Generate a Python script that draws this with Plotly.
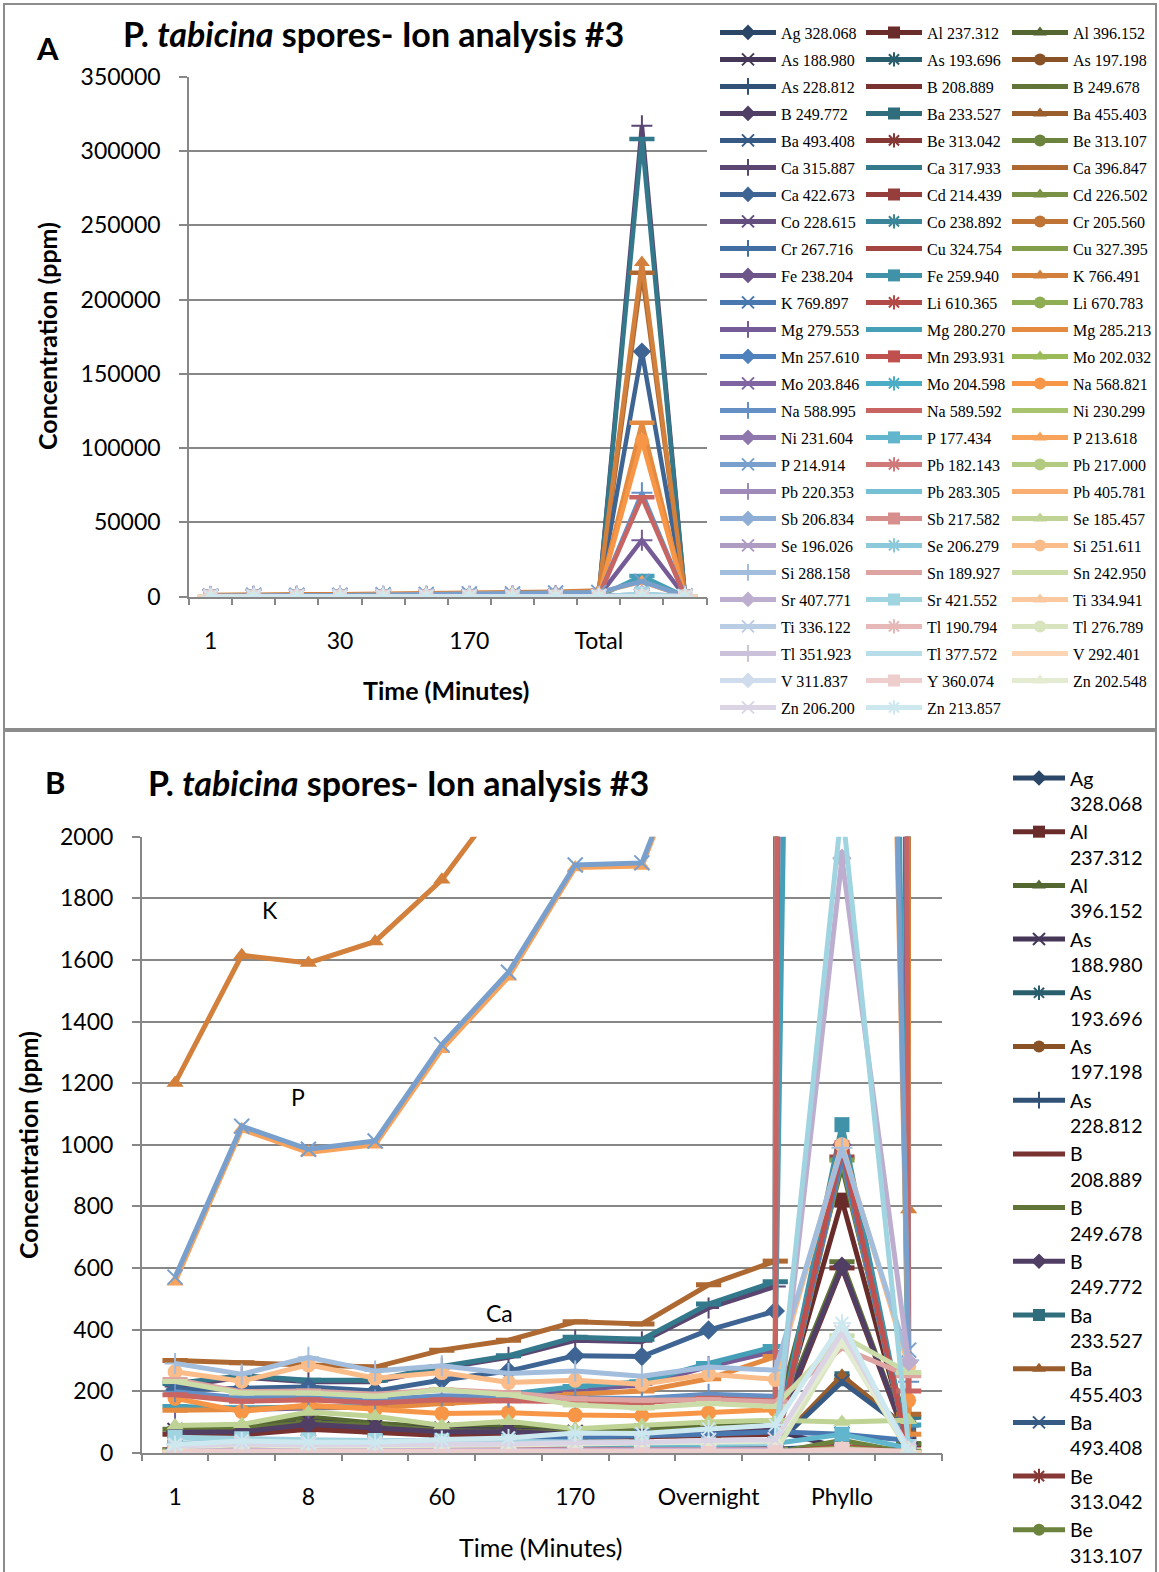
import plotly.graph_objects as go

# ---------------- data ----------------
categories = ["1", "4", "8", "30", "60", "120", "170", "240", "Overnight", "Total", "Phyllo", "Blank"]
ticks_a = ["1", "30", "170", "Total"]
ticks_b = ["1", "8", "60", "170", "Overnight", "Phyllo"]

Ag_328_068 = [3, 3, 3, 3, 3, 3, 3, 3, 4, 4, 6, 2]
Al_237_312 = [62, 64, 82, 72, 60, 62, 56, 58, 62, 66, 820, 30]
Al_396_152 = [86, 90, 116, 96, 82, 84, 76, 80, 94, 100, 930, 40]
As_188_980 = [72, 74, 102, 86, 76, 74, 66, 70, 74, 72, 15, 10]
As_193_696 = [5, 5, 6, 5, 5, 5, 5, 5, 6, 6, 8, 3]
As_197_198 = [8, 8, 9, 8, 8, 8, 8, 8, 9, 10, 15, 5]
As_228_812 = [10, 10, 12, 10, 10, 10, 10, 10, 12, 12, 20, 5]
B_208_889 = [60, 58, 76, 68, 56, 56, 50, 52, 56, 60, 600, 25]
B_249_678 = [76, 78, 98, 88, 72, 70, 66, 70, 80, 86, 620, 30]
B_249_772 = [66, 68, 92, 80, 68, 68, 60, 62, 70, 74, 605, 30]
Ba_233_527 = [20, 20, 22, 20, 20, 20, 22, 22, 25, 28, 240, 80]
Ba_455_403 = [18, 18, 20, 18, 18, 18, 20, 20, 22, 25, 250, 75]
Ba_493_408 = [17, 17, 19, 17, 17, 17, 19, 19, 21, 24, 230, 70]
Be_313_042 = [0, 0, 0, 0, 0, 0, 0, 0, 0, 0, 1, 0]
Be_313_107 = [0, 0, 0, 0, 0, 0, 0, 0, 0, 0, 40, 0]
Ca_315_887 = [215, 245, 230, 230, 275, 310, 365, 360, 470, 540, 317000, 110]
Ca_317_933 = [225, 250, 235, 235, 280, 315, 375, 368, 483, 555, 308000, 115]
Ca_396_847 = [299, 292, 282, 278, 333, 365, 425, 418, 545, 622, 218000, 125]
Ca_422_673 = [205, 210, 213, 200, 236, 265, 315, 312, 398, 460, 165000, 90]
Cd_214_439 = [2, 2, 2, 2, 2, 2, 2, 2, 2, 3, 5, 1]
Cd_226_502 = [2, 2, 2, 2, 2, 2, 2, 2, 2, 3, 5, 1]
Co_228_615 = [3, 3, 3, 3, 3, 3, 3, 3, 3, 3, 6, 1]
Co_238_892 = [3, 3, 3, 3, 3, 3, 3, 3, 3, 3, 6, 1]
Cr_205_560 = [4, 4, 4, 4, 4, 4, 4, 4, 5, 5, 12, 2]
Cr_267_716 = [4, 4, 4, 4, 4, 4, 4, 4, 5, 5, 14, 2]
Cu_324_754 = [10, 10, 11, 10, 10, 10, 10, 10, 11, 12, 960, 5]
Cu_327_395 = [9, 9, 10, 9, 9, 9, 9, 9, 10, 11, 950, 5]
Fe_238_204 = [14, 11, 10, 10, 11, 11, 14, 13, 17, 19, 1000, 5]
Fe_259_940 = [15, 12, 10, 10, 12, 12, 15, 14, 18, 20, 1065, 5]
K_766_491 = [1200, 1615, 1590, 1660, 1860, 2150, 2500, 2700, 3300, 4200, 225000, 790]
K_769_897 = [30, 34, 35, 36, 40, 44, 50, 54, 60, 68, 60, 40]
Li_610_365 = [1, 1, 1, 1, 1, 1, 1, 1, 1, 1, 20, 1]
Li_670_783 = [1, 1, 1, 1, 1, 1, 1, 1, 1, 1, 15, 1]
Mg_279_553 = [140, 140, 145, 148, 170, 185, 205, 220, 280, 330, 38000, 85]
Mg_280_270 = [150, 145, 148, 150, 175, 190, 215, 230, 290, 345, 14000, 90]
Mg_285_213 = [138, 140, 150, 145, 160, 170, 190, 200, 240, 312, 117000, 60]
Mn_257_610 = [10, 10, 11, 10, 10, 10, 10, 11, 12, 13, 960, 4]
Mn_293_931 = [9, 9, 10, 9, 9, 9, 9, 10, 11, 12, 990, 4]
Mo_202_032 = [1, 1, 1, 1, 1, 1, 1, 1, 1, 1, 3, 0]
Mo_203_846 = [1, 1, 1, 1, 1, 1, 1, 1, 1, 1, 3, 0]
Mo_204_598 = [1, 1, 1, 1, 1, 1, 1, 1, 1, 1, 3, 0]
Na_568_821 = [177, 134, 155, 140, 127, 130, 122, 120, 130, 140, 105000, 170]
Na_588_995 = [198, 178, 185, 172, 185, 180, 178, 176, 190, 183, 70000, 230]
Na_589_592 = [188, 167, 172, 161, 172, 169, 163, 162, 177, 168, 67000, 200]
Ni_230_299 = [2, 2, 2, 2, 2, 2, 2, 2, 2, 2, 5, 1]
Ni_231_604 = [2, 2, 2, 2, 2, 2, 2, 2, 2, 2, 5, 1]
P_177_434 = [30, 35, 32, 33, 30, 30, 28, 27, 26, 30, 60, 15]
P_213_618 = [555, 1050, 975, 1000, 1310, 1545, 1900, 1905, 2460, 2900, 10000, 300]
P_214_914 = [570, 1060, 985, 1012, 1325, 1560, 1908, 1915, 2470, 2920, 10300, 333]
Pb_182_143 = [0, 0, 0, 0, 0, 0, 0, 0, 0, 0, 2, 0]
Pb_217_000 = [0, 0, 0, 0, 0, 0, 0, 0, 0, 0, 2, 0]
Pb_220_353 = [1, 1, 1, 1, 1, 1, 1, 1, 1, 1, 3, 0]
Pb_283_305 = [1, 1, 1, 1, 1, 1, 1, 1, 1, 1, 3, 0]
Pb_405_781 = [1, 1, 1, 1, 1, 1, 1, 1, 1, 1, 3, 0]
Sb_206_834 = [1, 1, 1, 1, 1, 1, 1, 1, 1, 1, 2, 0]
Sb_217_582 = [2, 2, 2, 2, 2, 2, 2, 2, 2, 2, 3, 1]
Se_185_457 = [88, 92, 132, 118, 88, 102, 78, 90, 100, 105, 100, 105]
Se_196_026 = [1, 1, 1, 1, 1, 1, 1, 1, 1, 1, 2, 0]
Se_206_279 = [2, 2, 2, 2, 2, 2, 2, 2, 2, 2, 3, 1]
Si_251_611 = [263, 232, 285, 242, 260, 228, 235, 222, 255, 238, 1000, 280]
Si_288_158 = [290, 255, 310, 265, 282, 257, 265, 248, 278, 268, 990, 300]
Sn_189_927 = [238, 198, 200, 190, 205, 195, 175, 170, 172, 165, 340, 250]
Sn_242_950 = [231, 194, 194, 183, 204, 188, 155, 145, 160, 150, 380, 260]
Sr_407_771 = [8, 8, 8, 8, 8, 8, 8, 8, 9, 10, 1930, 295]
Sr_421_552 = [50, 45, 42, 40, 38, 36, 32, 30, 28, 30, 2100, 20]
Ti_334_941 = [2, 2, 2, 2, 2, 2, 2, 2, 2, 2, 4, 1]
Ti_336_122 = [2, 2, 2, 2, 2, 2, 2, 2, 2, 2, 4, 1]
Tl_190_794 = [3, 3, 3, 3, 3, 3, 3, 3, 3, 3, 5, 2]
Tl_276_789 = [3, 3, 3, 3, 3, 3, 3, 3, 3, 3, 360, 3]
Tl_351_923 = [2, 2, 2, 2, 2, 2, 2, 2, 2, 2, 4, 1]
Tl_377_572 = [2, 2, 2, 2, 2, 2, 2, 2, 2, 2, 4, 1]
V_292_401 = [1, 1, 1, 1, 1, 1, 1, 1, 1, 1, 3, 0]
V_311_837 = [1, 1, 1, 1, 1, 1, 1, 1, 1, 1, 3, 0]
Y_360_074 = [5, 5, 5, 5, 5, 5, 5, 5, 5, 5, 10, 5]
Zn_202_548 = [20, 25, 22, 22, 25, 25, 28, 30, 35, 38, 360, 15]
Zn_206_200 = [22, 28, 25, 25, 28, 28, 32, 33, 40, 42, 390, 15]
Zn_213_857 = [27, 38, 34, 34, 43, 48, 64, 62, 77, 90, 420, 0]

series = [
    ("Ag 328.068", Ag_328_068), ("Al 237.312", Al_237_312), ("Al 396.152", Al_396_152),
    ("As 188.980", As_188_980), ("As 193.696", As_193_696), ("As 197.198", As_197_198),
    ("As 228.812", As_228_812), ("B 208.889", B_208_889), ("B 249.678", B_249_678),
    ("B 249.772", B_249_772), ("Ba 233.527", Ba_233_527), ("Ba 455.403", Ba_455_403),
    ("Ba 493.408", Ba_493_408), ("Be 313.042", Be_313_042), ("Be 313.107", Be_313_107),
    ("Ca 315.887", Ca_315_887), ("Ca 317.933", Ca_317_933), ("Ca 396.847", Ca_396_847),
    ("Ca 422.673", Ca_422_673), ("Cd 214.439", Cd_214_439), ("Cd 226.502", Cd_226_502),
    ("Co 228.615", Co_228_615), ("Co 238.892", Co_238_892), ("Cr 205.560", Cr_205_560),
    ("Cr 267.716", Cr_267_716), ("Cu 324.754", Cu_324_754), ("Cu 327.395", Cu_327_395),
    ("Fe 238.204", Fe_238_204), ("Fe 259.940", Fe_259_940), ("K 766.491", K_766_491),
    ("K 769.897", K_769_897), ("Li 610.365", Li_610_365), ("Li 670.783", Li_670_783),
    ("Mg 279.553", Mg_279_553), ("Mg 280.270", Mg_280_270), ("Mg 285.213", Mg_285_213),
    ("Mn 257.610", Mn_257_610), ("Mn 293.931", Mn_293_931), ("Mo 202.032", Mo_202_032),
    ("Mo 203.846", Mo_203_846), ("Mo 204.598", Mo_204_598), ("Na 568.821", Na_568_821),
    ("Na 588.995", Na_588_995), ("Na 589.592", Na_589_592), ("Ni 230.299", Ni_230_299),
    ("Ni 231.604", Ni_231_604), ("P 177.434", P_177_434), ("P 213.618", P_213_618),
    ("P 214.914", P_214_914), ("Pb 182.143", Pb_182_143), ("Pb 217.000", Pb_217_000),
    ("Pb 220.353", Pb_220_353), ("Pb 283.305", Pb_283_305), ("Pb 405.781", Pb_405_781),
    ("Sb 206.834", Sb_206_834), ("Sb 217.582", Sb_217_582), ("Se 185.457", Se_185_457),
    ("Se 196.026", Se_196_026), ("Se 206.279", Se_206_279), ("Si 251.611", Si_251_611),
    ("Si 288.158", Si_288_158), ("Sn 189.927", Sn_189_927), ("Sn 242.950", Sn_242_950),
    ("Sr 407.771", Sr_407_771), ("Sr 421.552", Sr_421_552), ("Ti 334.941", Ti_334_941),
    ("Ti 336.122", Ti_336_122), ("Tl 190.794", Tl_190_794), ("Tl 276.789", Tl_276_789),
    ("Tl 351.923", Tl_351_923), ("Tl 377.572", Tl_377_572), ("V 292.401", V_292_401),
    ("V 311.837", V_311_837), ("Y 360.074", Y_360_074), ("Zn 202.548", Zn_202_548),
    ("Zn 206.200", Zn_206_200), ("Zn 213.857", Zn_213_857),
]

# ---------------- styling ----------------
W, H = 1159, 1572
GRID = "#878787"
FONT = "Lato, 'Open Sans', sans-serif"
LEG_FONT = "'Liberation Serif', serif"


def fx(p):
    return p / W


def fy(p):
    return 1 - p / H


accents = ["#4F81BD", "#C0504D", "#9BBB59", "#8064A2", "#4BACC6", "#F79646"]
n_levels = (len(series) + 5) // 6
half = (n_levels - 1) / 2


def shade(hexc, level):
    r, g, b = (int(hexc[i:i + 2], 16) for i in (1, 3, 5))
    t = (level - half) / half
    if t < 0:
        f = 1 + 0.45 * t
        r, g, b = r * f, g * f, b * f
    else:
        m = 0.72 * t
        r, g, b = r + (255 - r) * m, g + (255 - g) * m, b + (255 - b) * m
    return f"rgb({round(r)},{round(g)},{round(b)})"


symbols = ["diamond", "square", "triangle-up", "x-thin", "asterisk", "circle",
           "cross-thin", "line-ew", "line-ew"]
thin = {"x-thin", "asterisk", "cross-thin"}

xpos = list(range(1, len(categories) + 1))
bounds = [i + 0.5 for i in range(len(categories) + 1)]

fig = go.Figure()

# panel A traces
for i, (name, vals) in enumerate(series):
    col = shade(accents[i % 6], i // 6)
    sym = symbols[i % 9]
    if sym == "line-ew":
        size, lw = 18, 4.5
    elif sym in thin:
        size, lw = 15, 2
    else:
        size, lw = 14, 0
    fig.add_trace(go.Scatter(
        x=xpos, y=vals, name=name, mode="lines+markers",
        xaxis="x", yaxis="y",
        line=dict(color=col, width=4.5),
        marker=dict(symbol=sym, size=size, color=col, line=dict(color=col, width=lw)),
        legend=["legend", "legend2", "legend3"][i % 3],
        legendgroup=f"a{i}",
        customdata=[categories[k] for k in range(len(categories))],
        hovertemplate="%{customdata}: %{y}<extra>" + name + "</extra>",
    ))

# panel B traces
for i, (name, vals) in enumerate(series):
    col = shade(accents[i % 6], i // 6)
    sym = symbols[i % 9]
    if sym == "line-ew":
        size, lw = 18, 5
    elif sym in thin:
        size, lw = 15, 2
    else:
        size, lw = 15, 0
    fig.add_trace(go.Scatter(
        x=xpos, y=vals, name=name.replace(" ", "<br>"), mode="lines+markers",
        xaxis="x2", yaxis="y2",
        line=dict(color=col, width=5),
        marker=dict(symbol=sym, size=size, color=col, line=dict(color=col, width=lw)),
        legend="legend4",
        legendgroup=f"b{i}",
        showlegend=i < 15,
        customdata=[categories[k] for k in range(len(categories))],
        hovertemplate="%{customdata}: %{y}<extra>" + name + "</extra>",
    ))

tickfont = dict(family=FONT, size=23, color="black")

common_x = dict(
    range=[0.5, len(categories) + 0.5], tickmode="array", ticks="",
    showgrid=False, zeroline=False, showline=True, linecolor=GRID, linewidth=1.5,
    tickfont=tickfont, ticklabelstandoff=23,
    minor=dict(tickmode="array", tickvals=bounds, ticks="outside", ticklen=7,
               tickcolor=GRID, tickwidth=1.5, showgrid=False),
)
common_y = dict(
    tick0=0, ticks="outside", ticklen=8, tickcolor=GRID, tickwidth=1.5,
    showgrid=True, gridcolor=GRID, gridwidth=1.5, zeroline=False,
    showline=True, linecolor=GRID, linewidth=1.5, tickfont=tickfont,
    tickformat="d", ticklabelstandoff=14,
)

fig.update_layout(
    width=W, height=H,
    margin=dict(l=0, r=0, t=0, b=0, autoexpand=False),
    paper_bgcolor="white", plot_bgcolor="white",
    font=dict(family=FONT, color="black"),
    xaxis=dict(domain=[fx(189), fx(706.6)], anchor="y",
               tickvals=[categories.index(t) + 1 for t in ticks_a], ticktext=ticks_a,
               **common_x),
    yaxis=dict(domain=[fy(596.7), fy(76.7)], anchor="x", range=[0, 350000],
               dtick=50000, **common_y),
    xaxis2=dict(domain=[fx(141.7), fx(942)], anchor="y2",
                tickvals=[categories.index(t) + 1 for t in ticks_b], ticktext=ticks_b,
                **common_x),
    yaxis2=dict(domain=[fy(1452.7), fy(836.7)], anchor="x2", range=[0, 2000],
                dtick=200, **common_y),
    showlegend=True,
)

leg_fs = 16
leg_gap = 27 - (max(1.3 * leg_fs, 16) + 3)
for key, left in (("legend", 715), ("legend2", 861), ("legend3", 1007)):
    fig.update_layout({key: dict(
        x=fx(left), y=fy(15.5), xanchor="left", yanchor="top",
        font=dict(family=LEG_FONT, size=leg_fs, color="black"),
        itemwidth=56, tracegroupgap=leg_gap, traceorder="grouped",
        itemsizing="constant",
        bgcolor="rgba(0,0,0,0)", borderwidth=0,
    )})
fig.update_layout(legend4=dict(
    x=fx(1008), y=fy(758.8), xanchor="left", yanchor="top",
    font=dict(family=FONT, size=19.5, color="black"),
    itemwidth=52, tracegroupgap=0, traceorder="grouped", valign="top",
    itemsizing="constant",
    bgcolor="rgba(0,0,0,0)", borderwidth=0,
))

title_txt = "<b>P. <i>tabicina</i> spores- Ion analysis #3</b>"
ann = [
    dict(x=fx(48), y=fy(48), text="<b>A</b>", font=dict(size=31)),
    dict(x=fx(373), y=fy(34), text=title_txt, font=dict(size=34)),
    dict(x=fx(47), y=fy(336), text="<b>Concentration (ppm)</b>", textangle=-90, font=dict(size=25)),
    dict(x=fx(446), y=fy(690), text="<b>Time (Minutes)</b>", font=dict(size=25)),
    dict(x=fx(55), y=fy(782), text="<b>B</b>", font=dict(size=31)),
    dict(x=fx(398), y=fy(782), text=title_txt, font=dict(size=34)),
    dict(x=fx(28), y=fy(1145), text="<b>Concentration (ppm)</b>", textangle=-90, font=dict(size=25)),
    dict(x=fx(541), y=fy(1547), text="Time (Minutes)", font=dict(size=25)),
]
for a in ann:
    a.update(xref="paper", yref="paper", xanchor="center", yanchor="middle", showarrow=False)
    a["font"] = dict(family=FONT, color="black", **a["font"])
    fig.add_annotation(**a)

# element labels in panel B (data coordinates)
for txt, xv, yv in (("K", 2.42, 1762), ("P", 2.84, 1155), ("Ca", 5.86, 454)):
    fig.add_annotation(x=xv, y=yv, xref="x2", yref="y2", text=txt, showarrow=False,
                       font=dict(family=FONT, size=23, color="black"))

# panel borders
for y0, y1 in ((4, 729), (731, 1580)):
    fig.add_shape(type="rect", xref="paper", yref="paper",
                  x0=fx(4), x1=fx(1156), y0=fy(y1), y1=fy(y0),
                  line=dict(color="#8c8c8c", width=2), fillcolor="rgba(0,0,0,0)")

fig.write_html("out.html")
